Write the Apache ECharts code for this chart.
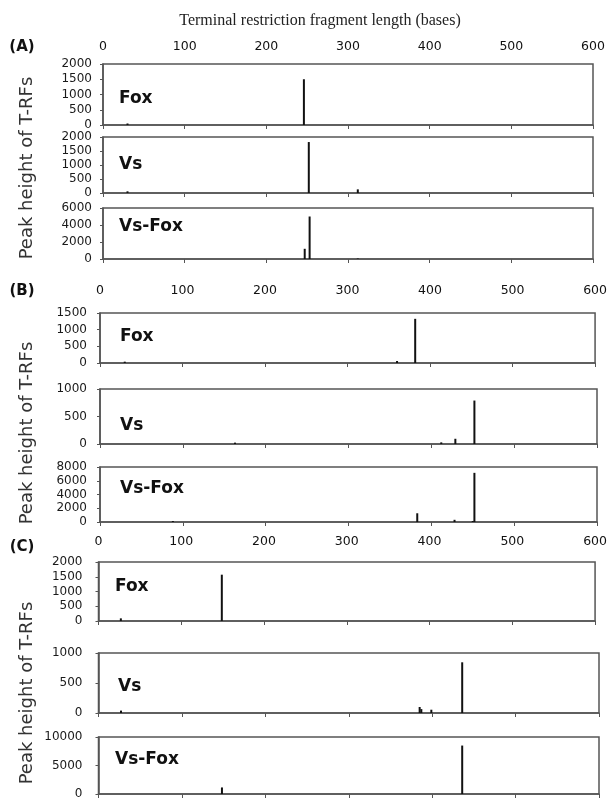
<!DOCTYPE html>
<html><head><meta charset="utf-8">
<script src="https://cdn.jsdelivr.net/npm/echarts@6/dist/echarts.min.js"></script>
<style>html,body{margin:0;padding:0;background:#fff}#c{width:610px;height:800px}</style>
</head><body><div id="c"></div>
<script>
// ---- data ----
const chartTitle = 'Terminal restriction fragment length (bases)';
const yTitle = 'Peak height of T-RFs';
const panelLabels = ['(A)', '(B)', '(C)'];
const sampleNames = ['Fox', 'Vs', 'Vs-Fox'];
const xMin = 0, xMax = 600, xStep = 100;

// Panel A
const A_Fox_pos = [30, 246];            const A_Fox_h = [50, 1500];
const A_Vs_pos = [30, 252, 312];        const A_Vs_h = [60, 1820, 130];
const A_VsFox_pos = [247, 253, 312];    const A_VsFox_h = [1200, 5000, 60];
// Panel B
const B_Fox_pos = [30, 360, 382];       const B_Fox_h = [40, 60, 1325];
const B_Vs_pos = [163, 412, 429, 452];  const B_Vs_h = [25, 30, 95, 790];
const B_VsFox_pos = [88, 383, 428, 450, 452]; const B_VsFox_h = [150, 1270, 320, 150, 7150];
// Panel C
const C_Fox_pos = [27, 149];            const C_Fox_h = [90, 1570];
const C_Vs_pos = [27, 385, 387, 399, 436]; const C_Vs_h = [40, 100, 65, 55, 845];
const C_VsFox_pos = [148, 436];         const C_VsFox_h = [1150, 8500];

// y-axis ranges (max, step) per plot
const yMaxA = [2000, 2000, 6000];   const yStepA = [500, 500, 2000];
const yMaxB = [1500, 1000, 8000];   const yStepB = [500, 500, 2000];
const yMaxC = [2000, 1000, 10000];  const yStepC = [500, 500, 5000];

const seriesPos = [A_Fox_pos, A_Vs_pos, A_VsFox_pos, B_Fox_pos, B_Vs_pos, B_VsFox_pos, C_Fox_pos, C_Vs_pos, C_VsFox_pos];
const seriesH = [A_Fox_h, A_Vs_h, A_VsFox_h, B_Fox_h, B_Vs_h, B_VsFox_h, C_Fox_h, C_Vs_h, C_VsFox_h];
const yMaxAll = yMaxA.concat(yMaxB, yMaxC);
const yStepAll = yStepA.concat(yStepB, yStepC);

// ---- layout (pixels) ----
const layout = [
  {left:103, right:17, top:64,  height:61, lm:11},
  {left:103, right:17, top:137, height:56, lm:11},
  {left:103, right:17, top:208, height:51, lm:11},
  {left:100, right:13, top:313, height:50, lm:13},
  {left:100, right:13, top:389, height:55, lm:13},
  {left:100, right:13, top:467, height:55, lm:13},
  {left:98.5, right:11, top:562, height:59, lm:16},
  {left:98.5, right:11, top:653, height:60, lm:16},
  {left:98.5, right:11, top:737, height:60, lm:16}
];
const topLabelMargin = [11, 16, 14];
const panelLabelY = [47, 291, 547];
const yTitleY = [168, 433, 693];
const sampleLabelPos = [
  [119, 99], [119, 165], [119, 227],
  [120, 337], [120, 426], [120, 489],
  [115, 587], [118, 687], [115, 760]
];

const axisColor = '#555';
const textColor = '#1a1a1a';
const numFont = 'DejaVu Sans';
const plain = v => String(v);

const grids = [], xAxes = [], yAxes = [], series = [], graphics = [];
layout.forEach((g, i) => {
  grids.push({left: g.left, right: g.right, top: g.top, height: g.height, show: true,
    borderColor: axisColor, borderWidth: 1.5, containLabel: false});
  xAxes.push({type: 'value', gridIndex: i, min: xMin, max: xMax, interval: xStep, position: 'bottom',
    axisLine: {show: true, onZero: false, lineStyle: {color: axisColor, width: 1.5}},
    axisTick: {show: true, length: 4, lineStyle: {color: axisColor}},
    axisLabel: {show: false}, splitLine: {show: false}});
  yAxes.push({type: 'value', gridIndex: i, min: 0, max: yMaxAll[i], interval: yStepAll[i],
    axisLine: {show: true, lineStyle: {color: axisColor, width: 1.5}},
    axisTick: {show: true, length: 3, lineStyle: {color: axisColor}},
    axisLabel: {show: true, margin: g.lm, color: textColor, fontFamily: numFont, fontSize: 12, formatter: plain},
    splitLine: {show: false}});
  series.push({type: 'bar', xAxisIndex: i, yAxisIndex: i, barWidth: 2,
    itemStyle: {color: '#111'}, animation: false,
    data: seriesPos[i].map((p, k) => [p, seriesH[i][k]])});
  graphics.push({type: 'text', x: sampleLabelPos[i][0], y: sampleLabelPos[i][1],
    style: {text: sampleNames[i % 3], font: 'bold 17px "DejaVu Sans"', fill: '#111',
      textAlign: 'left', textVerticalAlign: 'middle'}});
});
// top axes showing labels for the first plot of each panel
[0, 3, 6].forEach((gi, p) => {
  xAxes.push({type: 'value', gridIndex: gi, min: xMin, max: xMax, interval: xStep, position: 'top',
    axisLine: {show: false}, axisTick: {show: false}, splitLine: {show: false},
    axisLabel: {show: true, margin: topLabelMargin[p], color: '#111', fontFamily: numFont,
      fontSize: 12.5, formatter: plain}});
  graphics.push({type: 'text', x: 22, y: panelLabelY[p],
    style: {text: panelLabels[p], font: 'bold 15px "DejaVu Sans"', fill: '#111',
      textAlign: 'center', textVerticalAlign: 'middle'}});
  graphics.push({type: 'text', x: 27, y: yTitleY[p], rotation: Math.PI / 2,
    style: {text: yTitle, font: '18px "DejaVu Sans"', fill: '#333',
      textAlign: 'center', textVerticalAlign: 'middle'}});
});
graphics.push({type: 'text', x: 320, y: 21,
  style: {text: chartTitle, font: '16px "Liberation Serif"', fill: '#222',
    textAlign: 'center', textVerticalAlign: 'middle'}});

const chart = echarts.init(document.getElementById('c'), null, {renderer: 'canvas'});
chart.setOption({
  animation: false,
  backgroundColor: '#fff',
  grid: grids, xAxis: xAxes, yAxis: yAxes, series: series, graphic: graphics
});
</script></body></html>
